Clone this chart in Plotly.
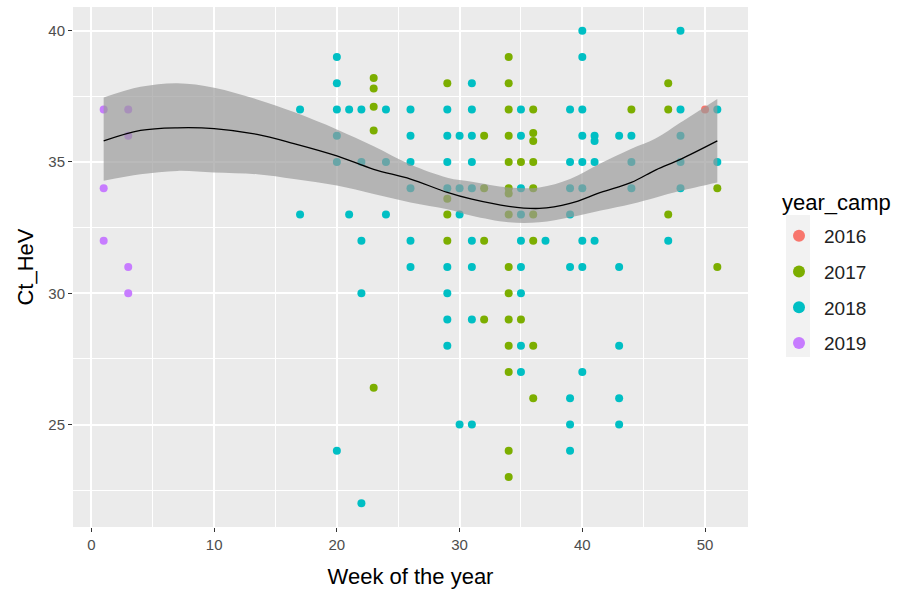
import plotly.graph_objects as go

# Ct_HeV values by week of sampling, one set per campaign year
weeks_2016 = [50]
ct_2016 = [37]

weeks_2017 = [23, 23, 23, 23, 23,
              29, 29, 29, 29,
              32, 32, 32, 32,
              34, 34, 34, 34, 34, 34, 34, 34, 34, 34, 34, 34, 34, 34, 34,
              35, 35,
              36, 36, 36, 36, 36, 36, 36, 36, 36,
              44,
              47, 47, 47,
              51, 51]
ct_2017 = [38.2, 37.8, 37.1, 36.2, 26.4,
           38, 33.6, 33, 32,
           36, 34, 32, 29,
           39, 38, 37, 36, 35, 34, 33.8, 33, 31, 30, 29, 28, 27, 24, 23,
           35, 29,
           37, 36.1, 35.8, 35, 34, 33, 32, 28, 26,
           37,
           38, 37, 33,
           34, 31]

weeks_2018 = [17, 17,
              20, 20, 20, 20, 20, 20,
              21, 21,
              22, 22, 22, 22, 22,
              24, 24, 24,
              26, 26, 26, 26, 26, 26,
              29, 29, 29, 29, 29, 29, 29, 29,
              30, 30, 30, 30,
              31, 31, 31, 31, 31, 31, 31, 31, 31,
              35, 35, 35, 35, 35, 35, 35, 35, 35,
              37,
              39, 39, 39, 39, 39, 39, 39, 39,
              40, 40, 40, 40, 40, 40, 40, 40, 40,
              41, 41, 41, 41,
              43, 43, 43, 43, 43,
              44, 44, 44,
              47,
              48, 48, 48, 48, 48,
              51, 51]
ct_2018 = [37, 33,
           39, 38, 37, 36, 35, 24,
           37, 33,
           37, 35, 32, 30, 22,
           37, 35, 33,
           37, 36, 35, 34, 32, 31,
           37, 36, 35, 34, 31, 30, 29, 28,
           36, 34, 33, 25,
           38, 37, 36, 35, 34, 32, 31, 29, 25,
           37, 36, 34, 33, 32, 31, 30, 28, 27,
           32,
           37, 35, 34, 33, 31, 26, 25, 24,
           40, 39, 37, 36, 35, 34, 32, 31, 27,
           36, 35.8, 35, 32,
           36, 31, 28, 26, 25,
           36, 35, 34,
           32,
           40, 37, 36, 35, 34,
           37, 35]

weeks_2019 = [1, 1, 1, 3, 3, 3, 3]
ct_2019 = [37, 34, 32, 37, 36, 31, 30]

years = ["2016", "2017", "2018", "2019"]
year_weeks = [weeks_2016, weeks_2017, weeks_2018, weeks_2019]
year_ct = [ct_2016, ct_2017, ct_2018, ct_2019]
year_colors = ["#F8766D", "#7CAE00", "#00BFC4", "#C77CFF"]

# Smoothed trend of Ct_HeV over the year with its 95% confidence limits
smooth_weeks = [1, 4, 7, 10, 13.5, 16.5, 20, 23, 26, 29, 31, 34, 36.5, 39, 41.5, 44, 46, 48, 51]
smooth_fit = [35.8, 36.2, 36.3, 36.27, 36.05, 35.7, 35.23, 34.72, 34.35, 33.84, 33.58,
              33.31, 33.23, 33.42, 33.84, 34.22, 34.7, 35.1, 35.8]
smooth_upper = [37.45, 37.86, 38.0, 37.83, 37.38, 36.9, 36.24, 35.6, 34.9, 34.4, 34.25,
                34.03, 34.03, 34.35, 34.95, 35.5, 35.9, 36.5, 37.4]
smooth_lower = [34.28, 34.53, 34.66, 34.6, 34.53, 34.35, 34.1, 33.78, 33.46, 33.2, 32.95,
                32.7, 32.7, 32.89, 33.15, 33.4, 33.65, 33.9, 34.22]

fig = go.Figure()

for yr, wk, ct, col in zip(years, year_weeks, year_ct, year_colors):
    fig.add_trace(go.Scatter(
        x=wk, y=ct, mode="markers", name=yr, legendgroup=yr,
        marker=dict(color=col, size=8, line=dict(width=0)),
    ))

# confidence ribbon of the smoother, drawn over the points
fig.add_trace(go.Scatter(x=smooth_weeks, y=smooth_lower, mode="lines",
                         line=dict(width=0, shape="spline", smoothing=1),
                         showlegend=False, hoverinfo="skip"))
fig.add_trace(go.Scatter(x=smooth_weeks, y=smooth_upper, mode="lines",
                         line=dict(width=0, shape="spline", smoothing=1),
                         fill="tonexty", fillcolor="rgba(153,153,153,0.68)",
                         showlegend=False, hoverinfo="skip"))
fig.add_trace(go.Scatter(x=smooth_weeks, y=smooth_fit, mode="lines",
                         line=dict(color="black", width=1.3, shape="spline", smoothing=1),
                         showlegend=False, hoverinfo="skip"))

font_family = "Liberation Sans, Arial, sans-serif"

# plot area in pixels: x 73..748, y 7..527
def px_x(p):
    return (p - 73) / 675.0


def px_y(p):
    return (527 - p) / 520.0


# light key backgrounds behind the legend symbols
fig.add_shape(type="rect", xref="paper", yref="paper",
              x0=px_x(786), x1=px_x(810), y0=px_y(357), y1=px_y(215),
              fillcolor="#F2F2F2", line=dict(width=0), layer="below")

fig.add_annotation(text="year_camp", xref="paper", yref="paper",
                   x=px_x(780), y=px_y(202), xanchor="left", yanchor="middle",
                   showarrow=False, font=dict(size=22, color="#000000"))

fig.update_layout(
    width=898, height=593,
    margin=dict(l=73, r=150, t=7, b=66),
    paper_bgcolor="white",
    plot_bgcolor="#EBEBEB",
    font=dict(family=font_family, color="#000000"),
    showlegend=True,
    legend=dict(
        x=px_x(774), xanchor="left", y=px_y(217), yanchor="top",
        font=dict(size=19, color="#222222"),
        tracegroupgap=8,
        itemsizing="constant",
        itemwidth=40,
        bgcolor="rgba(0,0,0,0)",
    ),
    xaxis=dict(
        range=[-1.5, 53.5], tick0=0, dtick=10,
        showgrid=True, gridcolor="white", gridwidth=1.6,
        minor=dict(tick0=0, dtick=5, showgrid=True, gridcolor="white", gridwidth=0.8),
        zeroline=False, showline=False,
        ticks="outside", ticklen=4, tickcolor="#333333", tickwidth=1,
        tickfont=dict(size=15, color="#4D4D4D"),
        title=dict(text="Week of the year", font=dict(size=22, color="#000000"), standoff=16),
    ),
    yaxis=dict(
        range=[21.1, 40.9], tick0=0, dtick=5,
        showgrid=True, gridcolor="white", gridwidth=1.6,
        minor=dict(tick0=0, dtick=2.5, showgrid=True, gridcolor="white", gridwidth=0.8),
        zeroline=False, showline=False,
        ticks="outside", ticklen=4, tickcolor="#333333", tickwidth=1,
        tickfont=dict(size=15, color="#4D4D4D"),
        title=dict(text="Ct_HeV", font=dict(size=22, color="#000000"), standoff=8),
    ),
)

fig.write_html("out.html")
